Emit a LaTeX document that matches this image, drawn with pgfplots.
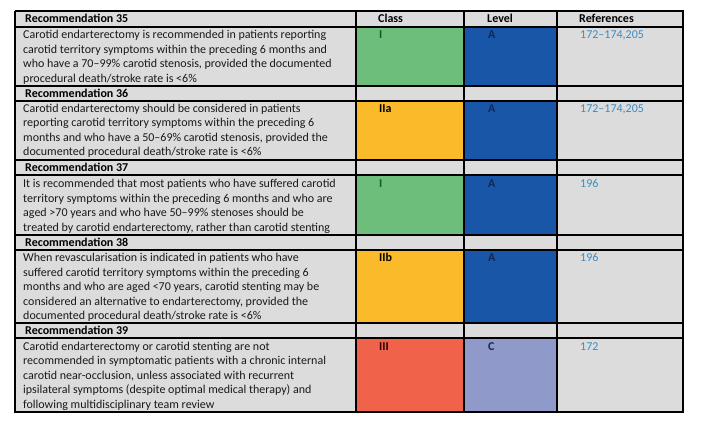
\documentclass[border=0pt]{standalone}
\usepackage{pgfplots}
\pgfplotsset{compat=1.18}
\usepackage{fontspec}
\setmainfont{Carlito}
\definecolor{cgray}{RGB}{220,220,220}
\definecolor{cgreen}{RGB}{108,190,122}
\definecolor{cblue}{RGB}{26,86,168}
\definecolor{cyellow}{RGB}{251,186,41}
\definecolor{cred}{RGB}{240,98,74}
\definecolor{clav}{RGB}{143,154,203}
\definecolor{cref}{RGB}{60,140,196}
\definecolor{cdkgreen}{RGB}{20,90,40}
\definecolor{cnavy}{RGB}{15,40,85}
\newcommand{\cell}[5]{\addplot[fill=#5,draw=black,line width=1.3pt,line join=miter] coordinates {(#1,#2) (#3,#2) (#3,#4) (#1,#4) (#1,#2)};}
\newcommand{\tl}[4][black!90]{\node[anchor=base west,inner sep=0pt,text=#1,font=\fontsize{12}{14.5}\selectfont] at (axis cs:#2,#3) {#4};}
\newcommand{\tb}[4][black]{\node[anchor=base west,inner sep=0pt,text=#1,font=\fontsize{12}{14.5}\selectfont\bfseries] at (axis cs:#2,#3) {#4};}
\begin{document}
\begin{tikzpicture}
\begin{axis}[width=711pt,height=434pt,scale only axis,xmin=0,xmax=711,ymin=0,ymax=434,y dir=reverse,hide axis,clip=false]
\cell{15}{11}{356}{27}{cgray}\cell{356}{11}{464}{27}{cgray}\cell{464}{11}{557}{27}{cgray}\cell{557}{11}{683}{27}{cgray}
\cell{15}{27}{356}{86}{cgray}\cell{356}{27}{464}{86}{cgreen}\cell{464}{27}{557}{86}{cblue}\cell{557}{27}{683}{86}{cgray}
\cell{15}{86}{356}{101}{cgray}\cell{356}{86}{464}{101}{cgray}\cell{464}{86}{557}{101}{cgray}\cell{557}{86}{683}{101}{cgray}
\cell{15}{101}{356}{160}{cgray}\cell{356}{101}{464}{160}{cyellow}\cell{464}{101}{557}{160}{cblue}\cell{557}{101}{683}{160}{cgray}
\cell{15}{160}{356}{175}{cgray}\cell{356}{160}{464}{175}{cgray}\cell{464}{160}{557}{175}{cgray}\cell{557}{160}{683}{175}{cgray}
\cell{15}{175}{356}{235}{cgray}\cell{356}{175}{464}{235}{cgreen}\cell{464}{175}{557}{235}{cblue}\cell{557}{175}{683}{235}{cgray}
\cell{15}{235}{356}{250}{cgray}\cell{356}{235}{464}{250}{cgray}\cell{464}{235}{557}{250}{cgray}\cell{557}{235}{683}{250}{cgray}
\cell{15}{250}{356}{323}{cgray}\cell{356}{250}{464}{323}{cyellow}\cell{464}{250}{557}{323}{cblue}\cell{557}{250}{683}{323}{cgray}
\cell{15}{323}{356}{338}{cgray}\cell{356}{323}{464}{338}{cgray}\cell{464}{323}{557}{338}{cgray}\cell{557}{323}{683}{338}{cgray}
\cell{15}{338}{356}{412}{cgray}\cell{356}{338}{464}{412}{cred}\cell{464}{338}{557}{412}{clav}\cell{557}{338}{683}{412}{cgray}
\tb{25}{22.5}{Recommendation 35}
\tb{378}{22.5}{Class}\tb{487}{22.5}{Level}\tb{579}{22.5}{References}
\tl{23}{38.5}{Carotid endarterectomy is recommended in patients reporting}
\tl{23}{53}{carotid territory symptoms within the preceding 6 months and}
\tl{23}{67.5}{who have a 70--99\% carotid stenosis, provided the documented}
\tl{23}{82}{procedural death/stroke rate is <6\%}
\tb[cdkgreen]{379}{38.5}{I}\tb[cnavy]{488}{38.5}{A}\tl[cref]{580}{38.5}{172--174,205}
\tb{25}{97}{Recommendation 36}
\tl{23}{112}{Carotid endarterectomy should be considered in patients}
\tl{23}{126.5}{reporting carotid territory symptoms within the preceding 6}
\tl{23}{141}{months and who have a 50--69\% carotid stenosis, provided the}
\tl{23}{155.5}{documented procedural death/stroke rate is <6\%}
\tb{379}{112}{IIa}\tb[cnavy]{488}{112}{A}\tl[cref]{580}{112}{172--174,205}
\tb{25}{171.5}{Recommendation 37}
\tl{23}{187.5}{It is recommended that most patients who have suffered carotid}
\tl{23}{202}{territory symptoms within the preceding 6 months and who are}
\tl{23}{216.5}{aged >70 years and who have 50--99\% stenoses should be}
\tl{23}{231}{treated by carotid endarterectomy, rather than carotid stenting}
\tb[cdkgreen]{379}{187.5}{I}\tb[cnavy]{488}{187.5}{A}\tl[cref]{580}{187.5}{196}
\tb{25}{246.5}{Recommendation 38}
\tl{23}{261.5}{When revascularisation is indicated in patients who have}
\tl{23}{276}{suffered carotid territory symptoms within the preceding 6}
\tl{23}{290.5}{months and who are aged <70 years, carotid stenting may be}
\tl{23}{305}{considered an alternative to endarterectomy, provided the}
\tl{23}{319.5}{documented procedural death/stroke rate is <6\%}
\tb{379}{261.5}{IIb}\tb[cnavy]{488}{261.5}{A}\tl[cref]{580}{261.5}{196}
\tb{25}{334.5}{Recommendation 39}
\tl{23}{350}{Carotid endarterectomy or carotid stenting are not}
\tl{23}{364.5}{recommended in symptomatic patients with a chronic internal}
\tl{23}{379}{carotid near-occlusion, unless associated with recurrent}
\tl{23}{393.5}{ipsilateral symptoms (despite optimal medical therapy) and}
\tl{23}{408}{following multidisciplinary team review}
\tb[black!85!red]{379}{350}{III}\tb[cnavy]{488}{350}{C}\tl[cref]{580}{350}{172}
\end{axis}
\useasboundingbox (current axis.south west) rectangle (current axis.north east);
\end{tikzpicture}
\end{document}
